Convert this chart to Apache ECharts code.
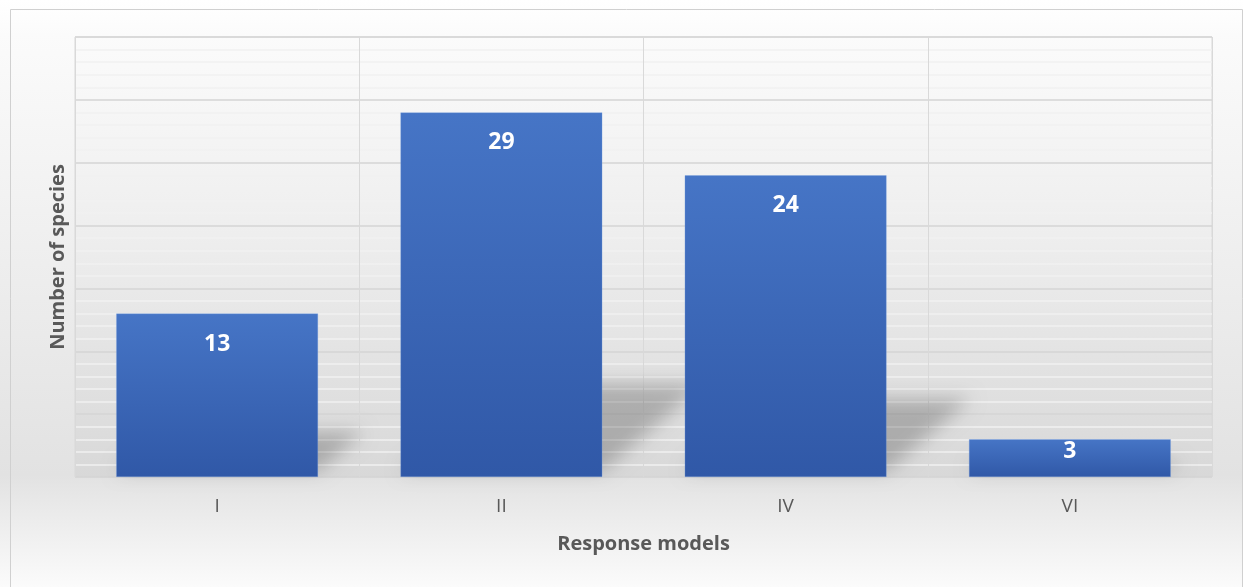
<!DOCTYPE html>
<html>
<head>
<meta charset="utf-8">
<script src="https://cdn.jsdelivr.net/npm/echarts@6/dist/echarts.min.js"></script>
<style>
  html, body { margin: 0; padding: 0; background: #ffffff; }
  #chart { width: 1243px; height: 587px; }
</style>
</head>
<body>
<div id="chart"></div>
<script>
// Number of species per response model
const categories = ['I', 'II', 'IV', 'VI'];
const speciesCounts = [13, 29, 24, 3];
const yTicks = { min: 0, max: 35, interval: 5 };

const FONT = '"Open Sans", "Liberation Sans", sans-serif';
const TEXT_GRAY = '#595959';

const chart = echarts.init(document.getElementById('chart'), null, { renderer: 'canvas' });

// Bars with a value label sitting near the inside top of each bar
const barData = speciesCounts.map(v => ({
  value: v,
  label: { distance: v < 6 ? 1 : 19 }
}));

// Soft floor shadow cast to the right of each bar
function renderShadow(params, api) {
  const v = api.value(1);
  const base = api.coord([api.value(0), 0]);
  const top = api.coord([api.value(0), v]);
  const bandW = api.size([1, 0])[0];
  const w = bandW * 0.71;
  const h = base[1] - top[1];
  const dx = h * 0.28, dy = h * 0.24;
  const x0 = base[0] - w / 2, x1 = base[0] + w / 2, y0 = base[1] - 6;
  const off = 3000;
  return {
    type: 'polygon',
    shape: {
      points: [
        [x0 - off, y0],
        [x1 - off, y0],
        [x1 + dx - off, y0 - dy],
        [x0 + dx - off, y0 - dy]
      ]
    },
    style: {
      fill: '#000',
      shadowColor: 'rgba(0,0,0,0.22)',
      shadowBlur: 18,
      shadowOffsetX: off,
      shadowOffsetY: 0
    }
  };
}

chart.setOption({
  animation: false,
  backgroundColor: {
    type: 'linear', x: 0, y: 0, x2: 0, y2: 1,
    colorStops: [
      { offset: 0, color: '#ffffff' },
      { offset: 0.06, color: '#fbfbfb' },
      { offset: 0.81, color: '#e2e2e2' },
      { offset: 0.83, color: '#e5e5e5' },
      { offset: 1, color: '#fbfbfb' }
    ]
  },
  graphic: [{
    type: 'rect',
    left: 8, top: 7,
    shape: { width: 1232, height: 578 },
    style: { fill: 'none', stroke: '#d0d0d0', lineWidth: 1 },
    silent: true, z: -1
  }],
  grid: {
    left: 75, right: 31, top: 37, bottom: 110,
    show: true,
    borderColor: '#d9d9d9',
    borderWidth: 1,
    backgroundColor: {
      type: 'linear', x: 0, y: 0, x2: 0, y2: 1,
      colorStops: [
        { offset: 0, color: '#fbfbfb' },
        { offset: 0.45, color: '#eeeeee' },
        { offset: 1, color: '#d8d8d8' }
      ]
    }
  },
  xAxis: {
    type: 'category',
    data: categories,
    boundaryGap: true,
    axisLine: { show: false },
    axisTick: { show: false },
    axisLabel: { color: TEXT_GRAY, fontSize: 19, fontFamily: FONT, margin: 20 },
    splitLine: { show: true, lineStyle: { color: '#d9d9d9', width: 1 } },
    name: 'Response models',
    nameLocation: 'middle',
    nameGap: 57,
    nameTextStyle: { color: TEXT_GRAY, fontSize: 20, fontWeight: 'bold', fontFamily: FONT }
  },
  yAxis: {
    type: 'value',
    min: yTicks.min, max: yTicks.max, interval: yTicks.interval,
    axisLine: { show: false },
    axisTick: { show: false },
    axisLabel: { show: false },
    splitLine: { show: true, lineStyle: { color: '#d4d4d4', width: 1.5 } },
    minorTick: { show: false, splitNumber: 5 },
    minorSplitLine: { show: true, lineStyle: { color: '#f1f1f1', width: 1.5 } },
    name: 'Number of species',
    nameLocation: 'middle',
    nameGap: 7,
    nameRotate: 90,
    nameTextStyle: { color: TEXT_GRAY, fontSize: 20, fontWeight: 'bold', fontFamily: FONT }
  },
  series: [
    {
      type: 'custom',
      z: 1,
      silent: true,
      renderItem: renderShadow,
      data: speciesCounts.map((v, i) => [i, v])
    },
    {
      type: 'bar',
      z: 3,
      barWidth: '71%',
      data: barData,
      itemStyle: {
        color: {
          type: 'linear', x: 0, y: 0, x2: 0, y2: 1,
          colorStops: [
            { offset: 0, color: '#4675c6' },
            { offset: 1, color: '#3058a7' }
          ]
        },
        borderColor: 'rgba(120,160,225,0.6)',
        borderWidth: 0.5
      },
      label: {
        show: true,
        position: 'insideTop',
        color: '#ffffff',
        fontSize: 23,
        fontWeight: 'bold',
        fontFamily: FONT
      }
    }
  ]
});
</script>
</body>
</html>
